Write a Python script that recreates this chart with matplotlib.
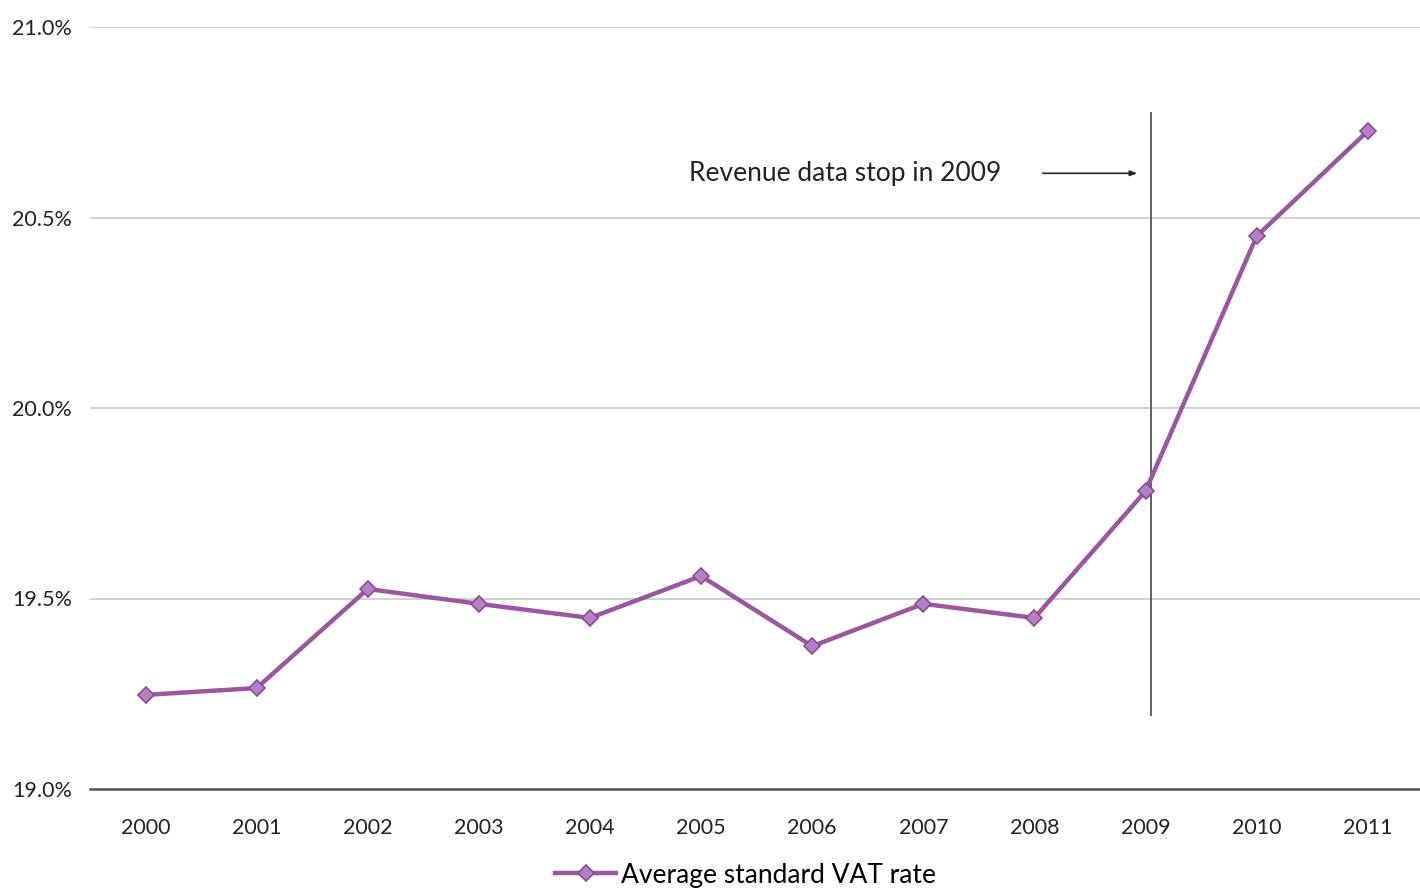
import matplotlib.pyplot as plt
import matplotlib.ticker as mticker

years = [2000, 2001, 2002, 2003, 2004, 2005, 2006, 2007, 2008, 2009, 2010, 2011]
vat_rate = [19.247, 19.265, 19.525, 19.486, 19.449, 19.559, 19.375, 19.486, 19.449, 19.782, 20.451, 20.727]
yticks = [19.0, 19.5, 20.0, 20.5, 21.0]
cutoff_year = 2009.05
note = "Revenue data stop in 2009"
series_name = "Average standard VAT rate"

plt.rcParams['font.family'] = ['Liberation Sans Narrow', 'Lato', 'DejaVu Sans']

fig = plt.figure(figsize=(14.2, 8.91), dpi=100)
ax = fig.add_axes([90/1420, 1-789/891, 1-90/1420, (789-27)/891])

ax.plot(years, vat_rate, color="#9a579f", lw=3.2, marker="D", ms=8,
        mfc="#b580c4", mec="#8a4a94", mew=1.2, label=series_name, zorder=3)

ax.set_xlim(1999.5, 2011.47)
ax.set_ylim(19.0, 21.0)
ax.set_yticks(yticks)
ax.yaxis.set_major_formatter(mticker.FuncFormatter(lambda v, p: f"{v:.1f}%"))
ax.set_xticks(years)
ax.grid(axis="y", color="#c8c8c8", lw=1.2)
ax.set_axisbelow(True)
for s in ["left", "right", "top"]:
    ax.spines[s].set_visible(False)
ax.spines["bottom"].set_color("#555555")
ax.spines["bottom"].set_linewidth(1.8)
ax.tick_params(axis="both", length=0, labelsize=15.5, colors="#222222")
ax.tick_params(axis="y", pad=13)
ax.tick_params(axis="x", pad=21)

# cutoff line + note
ax.plot([cutoff_year, cutoff_year], [19.194, 20.774], color="#555555", lw=1.3, zorder=2)
ax.annotate("", xy=(2008.95, 20.616), xytext=(2008.05, 20.616),
            arrowprops=dict(arrowstyle="-|>,head_length=0.4,head_width=0.15", color="#222222", lw=1.2))
ax.text(2006.3, 20.616, note, ha="center", va="center", fontsize=19, color="#222222")

leg = ax.legend(loc="center", bbox_to_anchor=(0.493, -0.113), frameon=False,
                fontsize=19, handlelength=2.3, handletextpad=0.2, borderpad=0.2)

fig.savefig("out.png", dpi=100)
